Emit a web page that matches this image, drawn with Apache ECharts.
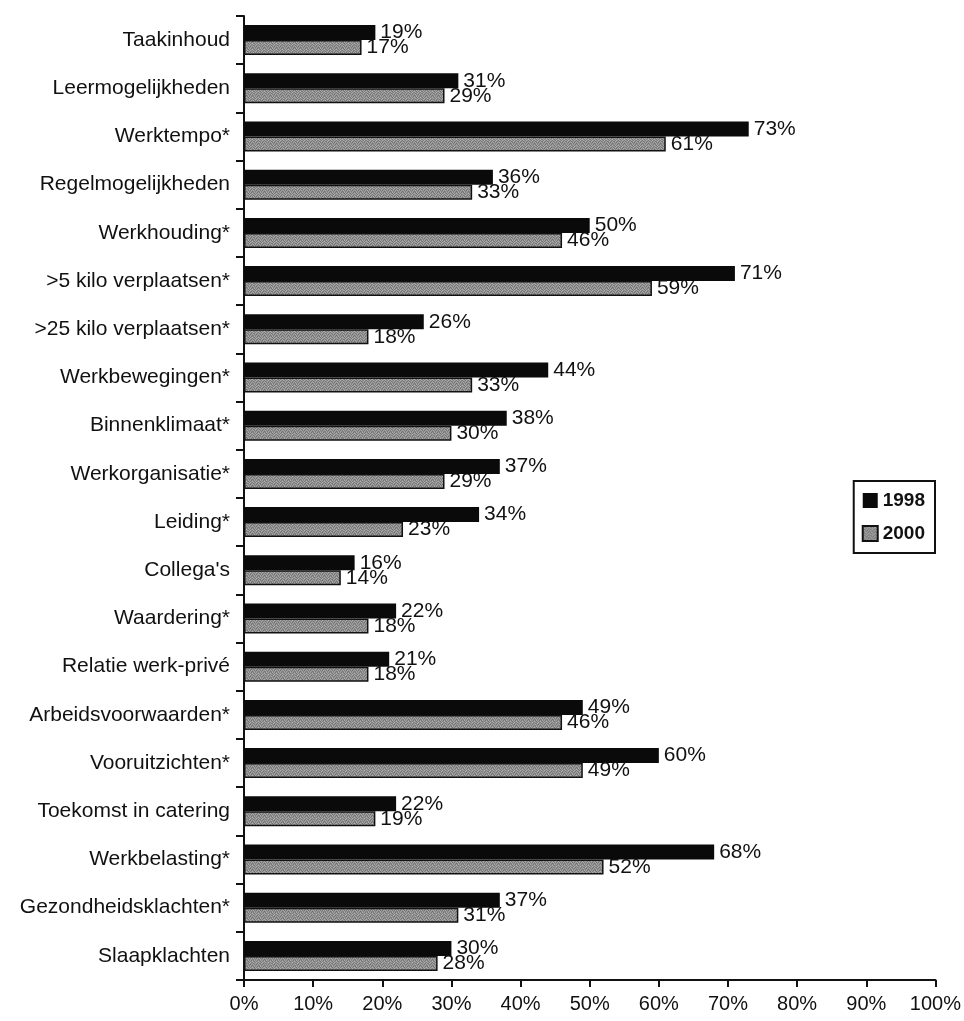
<!DOCTYPE html>
<html>
<head>
<meta charset="utf-8">
<script src="https://cdn.jsdelivr.net/npm/echarts@6/dist/echarts.min.js"></script>
<style>
  html, body { margin: 0; padding: 0; background: #fff; }
  #chart { width: 964px; height: 1021px; }
</style>
</head>
<body>
<div id="chart"></div>
<script>
// Categories, top to bottom
var categories = [
  'Taakinhoud', 'Leermogelijkheden', 'Werktempo*', 'Regelmogelijkheden',
  'Werkhouding*', '>5 kilo verplaatsen*', '>25 kilo verplaatsen*',
  'Werkbewegingen*', 'Binnenklimaat*', 'Werkorganisatie*', 'Leiding*',
  "Collega's", 'Waardering*', 'Relatie werk-privé', 'Arbeidsvoorwaarden*',
  'Vooruitzichten*', 'Toekomst in catering', 'Werkbelasting*',
  'Gezondheidsklachten*', 'Slaapklachten'
];
// Percentages per year
var values1998 = [19, 31, 73, 36, 50, 71, 26, 44, 38, 37, 34, 16, 22, 21, 49, 60, 22, 68, 37, 30];
var values2000 = [17, 29, 61, 33, 46, 59, 18, 33, 30, 29, 23, 14, 18, 18, 46, 49, 19, 52, 31, 28];
var xTicks = [0, 10, 20, 30, 40, 50, 60, 70, 80, 90, 100];

// Grey dithered fill for the 2000 bars
function makeTexture() {
  var c = document.createElement('canvas');
  c.width = 6; c.height = 6;
  var ctx = c.getContext('2d');
  var shades = [
    [150, 120, 170, 135, 160, 115],
    [175, 140, 110, 165, 125, 150],
    [125, 165, 150, 120, 175, 140],
    [160, 115, 135, 170, 140, 120],
    [140, 170, 125, 150, 110, 165],
    [115, 135, 160, 125, 155, 145]
  ];
  for (var y = 0; y < 6; y++) {
    for (var x = 0; x < 6; x++) {
      var g = shades[y][x];
      ctx.fillStyle = 'rgb(' + g + ',' + g + ',' + g + ')';
      ctx.fillRect(x, y, 1, 1);
    }
  }
  return c;
}

var FONT = 'Liberation Sans, Arial, sans-serif';
var chart = echarts.init(document.getElementById('chart'), null, { renderer: 'canvas' });

var labelStyle = {
  show: true,
  position: 'right',
  distance: 5,
  formatter: '{c}%',
  color: '#111',
  fontFamily: FONT,
  fontSize: 21
};

chart.setOption({
  animation: false,
  backgroundColor: '#fff',
  grid: { left: 244, right: 28, top: 16, bottom: 41, containLabel: false },
  legend: {
    orient: 'vertical',
    right: 29,
    top: 481,
    itemWidth: 15,
    itemHeight: 15,
    itemGap: 14,
    padding: [10, 10, 10, 8],
    borderColor: '#111',
    borderWidth: 2,
    icon: 'rect',
    textStyle: { fontFamily: FONT, fontSize: 19, fontWeight: 'bold', color: '#111' },
    data: ['1998', '2000']
  },
  xAxis: {
    type: 'value',
    min: 0,
    max: 100,
    interval: 10,
    axisLine: { show: true, lineStyle: { color: '#111', width: 2 } },
    axisTick: { show: true, length: 7, lineStyle: { color: '#111', width: 2 } },
    splitLine: { show: false },
    axisLabel: {
      margin: 14,
      color: '#111',
      fontFamily: FONT,
      fontSize: 20,
      formatter: function (v) { return xTicks.indexOf(v) >= 0 ? v + '%' : ''; }
    }
  },
  yAxis: {
    type: 'category',
    inverse: true,
    data: categories,
    boundaryGap: true,
    axisLine: { show: true, lineStyle: { color: '#111', width: 2 } },
    axisTick: { show: true, length: 8, lineStyle: { color: '#111', width: 2 } },
    axisLabel: { margin: 14, color: '#111', fontFamily: FONT, fontSize: 21 }
  },
  series: [
    {
      name: '1998',
      type: 'bar',
      data: values1998,
      barWidth: 15,
      barGap: '0%',
      itemStyle: { color: '#0a0a0a' },
      label: labelStyle
    },
    {
      name: '2000',
      type: 'bar',
      data: values2000,
      barWidth: 15,
      barGap: '0%',
      itemStyle: {
        color: { image: makeTexture(), repeat: 'repeat' },
        borderColor: '#111',
        borderWidth: 1.5
      },
      label: labelStyle
    }
  ]
});
</script>
</body>
</html>
